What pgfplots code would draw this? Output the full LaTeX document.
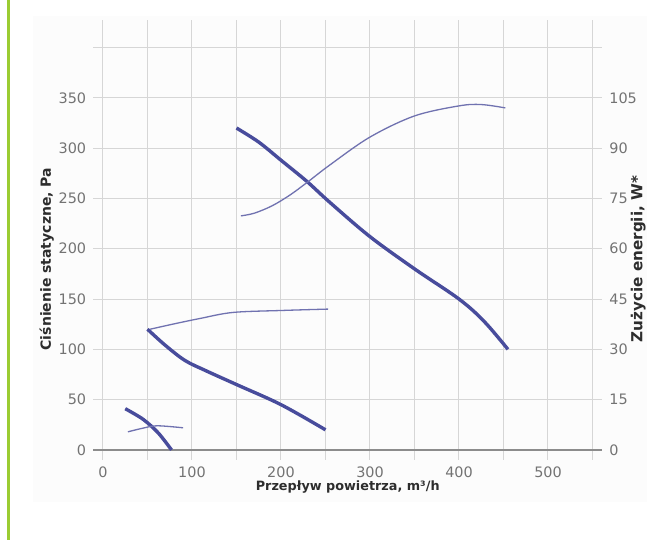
\documentclass[border=0pt]{standalone}
\usepackage{fontspec}
\setmainfont{DejaVu Sans}
\usepackage{pgfplots}
\pgfplotsset{compat=1.18}
\definecolor{cthick}{RGB}{72,76,156}
\definecolor{cthin}{RGB}{112,114,176}
\definecolor{gridc}{RGB}{214,214,214}
\definecolor{tickc}{RGB}{115,115,115}
\definecolor{labc}{RGB}{45,45,45}
\definecolor{greenl}{RGB}{155,204,50}
\begin{document}
\begin{tikzpicture}
\path[use as bounding box] (-46.6pt,-40pt) rectangle (280.9pt,230pt);
\fill[black!1] (-30pt,-21pt) rectangle (277pt,222pt);
\draw[greenl, line width=1.3pt] (-42.4pt,-40pt) -- (-42.4pt,230pt);
\begin{axis}[
  at={(0pt,0pt)}, anchor=south west,
  scale only axis, width=254.54pt, height=219.81pt,
  xmin=-11, xmax=561, ymin=-10, ymax=427,
  axis line style={draw=none},
  major tick length=0pt,
  xtick={0,50,...,550},
  xticklabels={0,,100,,200,,300,,400,,500,},
  ytick={0,50,...,400},
  yticklabels={0,50,100,150,200,250,300,350,},
  grid=major,
  grid style={gridc, line width=0.5pt},
  tick label style={font=\fontsize{7.2}{8}\selectfont, text=tickc},
  /pgf/number format/assume math mode=true,
  every axis x label/.style={at={(axis description cs:0.5,-0.0614)}, anchor=center, font=\bfseries\fontsize{6.4}{7.5}\selectfont, text=labc},
  every axis y label/.style={at={(axis description cs:-0.091,0.457)}, anchor=center, rotate=90, font=\bfseries\fontsize{7}{8}\selectfont, text=labc},
  xlabel={Przepływ powietrza, m³/h},
  ylabel={Ciśnienie statyczne, Pa},
  extra y ticks={0}, extra y tick labels={},
  extra y tick style={grid style={black!45, line width=0.6pt}},
]
\addplot[cthick, line width=1.7pt, smooth, tension=0.55] coordinates {
 (150,320) (175,306) (200,288) (229,267) (255,246) (300,212) (350,180) (400,150) (428,128) (455,100)};
\addplot[cthick, line width=1.7pt, smooth, tension=0.55] coordinates {
 (50,120) (70,104) (92,89) (115,79) (150,65) (200,45) (250,20)};
\addplot[cthick, line width=1.7pt, smooth, tension=0.5] coordinates {
 (25,41) (45,30.5) (62,17) (77,0)};
\end{axis}
\begin{axis}[
  at={(0pt,0pt)}, anchor=south west,
  scale only axis, width=254.54pt, height=219.81pt,
  xmin=-11, xmax=561, ymin=-3, ymax=128.1,
  axis line style={draw=none},
  major tick length=0pt,
  xtick=\empty,
  axis y line*=right,
  ytick={0,15,...,105},
  tick label style={font=\fontsize{7.2}{8}\selectfont, text=tickc},
  /pgf/number format/assume math mode=true,
  every axis y label/.style={at={(axis description cs:1.0707,0.457)}, anchor=center, rotate=90, font=\bfseries\fontsize{7.6}{8.5}\selectfont, text=labc},
  ylabel={Zużycie energii, W*},
]
\addplot[cthin, line width=0.65pt, smooth, tension=0.55] coordinates {
 (155,69.8) (170,70.6) (190,72.8) (210,76) (229,79.7) (255,85) (300,93.3) (350,99.6) (400,102.6) (425,103) (452,102)};
\addplot[cthin, line width=0.65pt, smooth, tension=0.55] coordinates {
 (53,36) (80,37.6) (109,39.2) (146,41) (202,41.6) (253,42)};
\addplot[cthin, line width=0.65pt, smooth, tension=0.55] coordinates {
 (28,5.4) (45,6.5) (61,7.2) (90,6.6)};
\end{axis}
\end{tikzpicture}
\end{document}
